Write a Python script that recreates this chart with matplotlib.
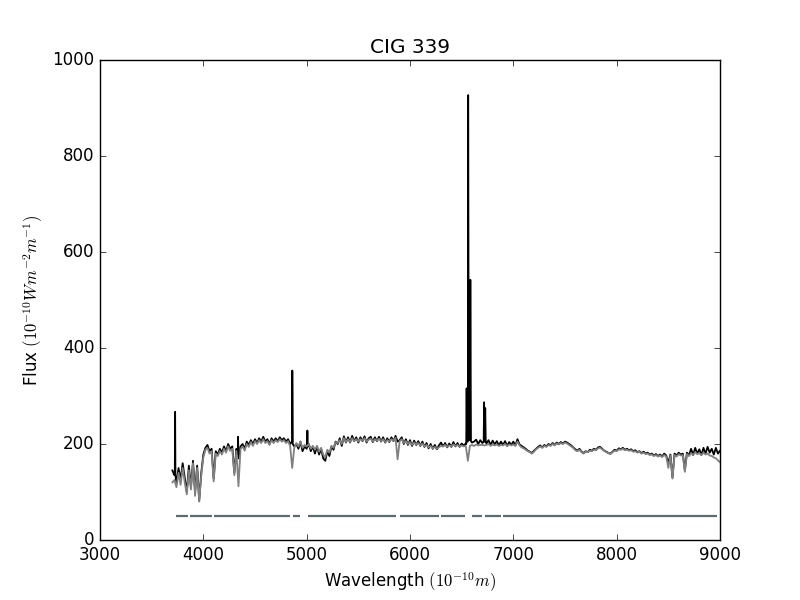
import numpy as np
import matplotlib
matplotlib.use('Agg')
import matplotlib.pyplot as plt

plt.style.use('classic')

# wavelength grid (Angstrom) for the observed and the fitted spectrum
wave = np.arange(3700, 9001, 20)

# observed flux, one row per 200 A
obs_flux = [
    145, 135, 118, 150, 125, 160, 130, 100, 155, 110,
    165, 100, 155, 82, 140, 178, 192, 198, 185, 190,
    128, 185, 178, 190, 182, 195, 185, 200, 190, 195,
    140, 190, 170, 195, 200, 190, 205, 198, 208, 200,
    210, 202, 212, 205, 215, 205, 210, 200, 212, 205,
    212, 206, 214, 208, 212, 205, 210, 200, 205, 195,
    200, 190, 205, 185, 195, 190, 200, 185, 195, 180,
    195, 178, 190, 170, 165, 185, 175, 195, 188, 205,
    200, 212, 196, 216, 203, 214, 203, 217, 206, 214,
    203, 214, 206, 216, 203, 212, 215, 204, 214, 206,
    215, 205, 214, 203, 212, 204, 214, 206, 217, 205,
    208, 214, 200, 210, 198, 208, 196, 207, 198, 206,
    196, 205, 194, 202, 191, 200, 190, 198, 189, 197,
    203, 195, 202, 193, 201, 194, 204, 195, 202, 194,
    201, 197, 201, 205, 208, 203, 205, 209, 200, 208,
    202, 205, 201, 208, 198, 207, 199, 206, 197, 205,
    198, 206, 196, 204, 198, 205, 197, 210, 199, 196,
    193, 190, 186, 184, 181, 186, 190, 194, 197, 193,
    198, 195, 200, 197, 202, 198, 203, 200, 204, 201,
    205, 203, 200, 197, 193, 189, 186, 190, 184, 181,
    185, 183, 188, 186, 190, 188, 193, 194, 190, 186,
    184, 181, 180, 184, 188, 186, 191, 189, 192, 188,
    190, 187, 189, 185, 187, 183, 185, 181, 184, 180,
    182, 178, 180, 176, 179, 175, 178, 174, 180, 176,
    160, 178, 130, 180, 176, 182, 178, 180, 145, 182,
    176, 190, 177, 192, 180, 189, 177, 192, 180, 194,
    182, 190, 178, 192, 180, 186,
]

# fitted model flux on the same grid
model_flux = [
    120, 125, 110, 140, 115, 150, 120, 95, 145, 105,
    160, 92, 150, 80, 135, 172, 188, 192, 180, 185,
    122, 180, 175, 185, 178, 190, 182, 195, 186, 190,
    135, 185, 112, 190, 195, 186, 200, 194, 204, 196,
    206, 200, 208, 202, 210, 202, 206, 198, 208, 202,
    208, 204, 210, 205, 208, 202, 206, 196, 150, 192,
    202, 195, 205, 192, 198, 195, 200, 190, 196, 188,
    196, 184, 192, 178, 172, 188, 182, 196, 192, 204,
    202, 208, 200, 212, 204, 210, 204, 212, 206, 210,
    205, 210, 207, 212, 205, 209, 211, 205, 210, 207,
    211, 206, 210, 204, 208, 205, 210, 207, 213, 168,
    206, 210, 202, 206, 200, 204, 198, 203, 199, 202,
    197, 201, 195, 198, 193, 196, 191, 194, 190, 193,
    196, 195, 198, 194, 197, 195, 199, 196, 198, 195,
    197, 195, 196, 165, 196, 198, 196, 199, 197, 198,
    198, 197, 198, 200, 196, 199, 197, 199, 196, 198,
    197, 200, 196, 199, 197, 199, 196, 205, 197, 193,
    191, 188, 185, 183, 180, 184, 189, 192, 195, 192,
    196, 194, 198, 196, 200, 197, 201, 199, 202, 200,
    203, 201, 198, 195, 192, 187, 185, 188, 183, 180,
    184, 183, 186, 185, 188, 187, 191, 192, 189, 186,
    183, 181, 179, 183, 186, 185, 189, 188, 190, 187,
    188, 186, 187, 184, 185, 182, 184, 180, 182, 179,
    180, 177, 178, 175, 177, 174, 176, 173, 177, 174,
    150, 176, 128, 177, 174, 179, 176, 177, 142, 179,
    175, 181, 177, 183, 179, 181, 177, 182, 178, 180,
    176, 175, 172, 170, 166, 162,
]

# emission lines in the observed spectrum (extra samples)
line_wave = [3724, 3727, 3730,
             4333, 4336, 4339,
             4857, 4861, 4865,
             5004, 5007, 5010,
             6544, 6548, 6552, 6557, 6563, 6569, 6578, 6584, 6590,
             6713, 6717, 6722, 6728, 6733]
line_flux = [140, 267, 135,
             180, 215, 175,
             205, 353, 200,
             195, 228, 195,
             200, 316, 205, 205, 927, 210, 208, 542, 206,
             205, 287, 220, 275, 204]

# unmasked wavelength ranges drawn at flux 50
mask_start = [3732, 3868, 4104, 4869, 5012, 5903, 6304, 6601, 6730, 6902]
mask_end = [3850, 4082, 4841, 4937, 5868, 6279, 6530, 6698, 6880, 8973]
mask_level = 50

obs_w = np.concatenate([wave, line_wave])
obs_f = np.concatenate([obs_flux, line_flux])
order = np.argsort(obs_w, kind='stable')

fig = plt.figure(figsize=(8, 6), dpi=100)
ax = fig.add_subplot(111)
ax.plot(obs_w[order], obs_f[order], color='black', lw=1.3)
ax.plot(wave, model_flux, color='0.5', lw=1.3)
ax.hlines([mask_level] * len(mask_start), mask_start, mask_end,
          color='#5c6b6d', lw=1.6)

ax.set_xlim(3000, 9000)
ax.set_ylim(0, 1000)
ax.set_title('CIG 339')
ax.set_xlabel(r'Wavelength $(10^{-10} m)$')
ax.set_ylabel(r'Flux $(10^{-10} W m^{-2} m^{-1})$')

fig.savefig('out.png', dpi=100)
